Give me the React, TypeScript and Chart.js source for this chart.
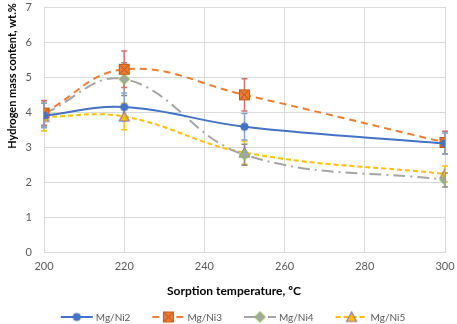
import React, { useEffect, useRef } from "react";
import { Chart, registerables } from "chart.js";

Chart.register(...registerables);

const temperatures = [200, 220, 250, 300];
const seriesNames = ["Mg/Ni2", "Mg/Ni3", "Mg/Ni4", "Mg/Ni5"];
const mgNi2 = [3.9, 4.14, 3.58, 3.1];
const mgNi2Err = [0.35, 0.4, 0.38, 0.3];
const mgNi3 = [3.97, 5.22, 4.49, 3.13];
const mgNi3Err = [0.35, 0.52, 0.46, 0.32];
const mgNi4 = [3.95, 4.94, 2.78, 2.06];
const mgNi4Err = [0.38, 0.47, 0.3, 0.2];
const mgNi5 = [3.86, 3.87, 2.84, 2.23];
const mgNi5Err = [0.4, 0.38, 0.33, 0.23];
const xTickValues = [200, 220, 240, 260, 280, 300];
const yTickValues = [0, 1, 2, 3, 4, 5, 6, 7];
const xTitle = "Sorption temperature, ºC";
const yTitle = "Hydrogen mass content, wt.%";

const FONT = "Lato, 'Open Sans', sans-serif";

const lineColors = ["#4472C4", "#ED7D31", "#A5A5A5", "#FFC000"];
const errColors = ["#7FA4D8", "#D0706A", "#8C8C8C", "#FFC000"];
const dashes: number[][] = [[], [7, 5], [12, 5, 2, 5], [5, 3]];

function makeMarker(kind: number): HTMLCanvasElement {
  const c = document.createElement("canvas");
  c.width = 13;
  c.height = 13;
  const g = c.getContext("2d")!;
  const cx = 6.5, cy = 6.5;
  if (kind === 0) {
    g.fillStyle = "#4472C4";
    g.beginPath();
    g.arc(cx, cy, 4, 0, Math.PI * 2);
    g.fill();
  } else if (kind === 1) {
    g.fillStyle = "#ED7D31";
    g.fillRect(1.5, 1.5, 10, 10);
    g.strokeStyle = "#C55A11";
    g.lineWidth = 1;
    g.strokeRect(1.5, 1.5, 10, 10);
    g.strokeStyle = "#B04A2A";
    g.beginPath();
    g.moveTo(2.5, 2.5); g.lineTo(10.5, 10.5);
    g.moveTo(10.5, 2.5); g.lineTo(2.5, 10.5);
    g.stroke();
  } else if (kind === 2) {
    g.fillStyle = "#A5A5A5";
    g.strokeStyle = "#8DBB5E";
    g.lineWidth = 1.2;
    g.beginPath();
    g.moveTo(cx, cy - 5); g.lineTo(cx + 5, cy); g.lineTo(cx, cy + 5); g.lineTo(cx - 5, cy);
    g.closePath();
    g.fill();
    g.stroke();
  } else {
    g.fillStyle = "#FFC000";
    g.strokeStyle = "#8B74B0";
    g.lineWidth = 1.2;
    g.beginPath();
    g.moveTo(cx, 1.5); g.lineTo(11.5, 11); g.lineTo(1.5, 11);
    g.closePath();
    g.fill();
    g.stroke();
  }
  return c;
}

export default function App() {
  const ref = useRef<HTMLCanvasElement>(null);

  useEffect(() => {
    const markers = [0, 1, 2, 3].map(makeMarker);
    const values = [mgNi2, mgNi3, mgNi4, mgNi5];
    const errors = [mgNi2Err, mgNi3Err, mgNi4Err, mgNi5Err];

    const extras = {
      id: "extras",
      beforeDatasetsDraw(chart: any) {
        const ctx = chart.ctx;
        const xs = chart.scales.x;
        const ys = chart.scales.y;
        ctx.save();
        for (let d = values.length - 1; d >= 0; d--) {
          ctx.strokeStyle = errColors[d];
          ctx.lineWidth = 1.5;
          values[d].forEach((v, i) => {
            const x = xs.getPixelForValue(temperatures[i]);
            const yTop = ys.getPixelForValue(v + errors[d][i]);
            const yBot = ys.getPixelForValue(v - errors[d][i]);
            ctx.beginPath();
            ctx.moveTo(x, yTop); ctx.lineTo(x, yBot);
            ctx.moveTo(x - 3, yTop); ctx.lineTo(x + 3, yTop);
            ctx.moveTo(x - 3, yBot); ctx.lineTo(x + 3, yBot);
            ctx.stroke();
          });
        }
        ctx.restore();
      },
      afterDraw(chart: any) {
        const ctx = chart.ctx;
        ctx.save();
        ctx.fillStyle = "#000";
        ctx.font = `bold 11px ${FONT}`;
        ctx.textAlign = "center";
        ctx.textBaseline = "middle";
        ctx.save();
        ctx.translate(12, 76);
        ctx.rotate(-Math.PI / 2);
        ctx.fillText(yTitle, 0, 0);
        ctx.restore();
        ctx.font = `bold 12px ${FONT}`;
        ctx.fillText(xTitle, 234, 291);
        ctx.font = `10px ${FONT}`;
        const lineW = 32, gapText = 3, gapItem = 22;
        const widths = seriesNames.map((n) => lineW + gapText + ctx.measureText(n).width);
        const total = widths.reduce((a, b) => a + b, 0) + gapItem * (widths.length - 1);
        let x = 233 - total / 2;
        const y = 317;
        seriesNames.forEach((n, i) => {
          ctx.save();
          ctx.strokeStyle = lineColors[i];
          ctx.lineWidth = 2;
          ctx.setLineDash(dashes[i]);
          ctx.beginPath();
          ctx.moveTo(x, y); ctx.lineTo(x + lineW, y);
          ctx.stroke();
          ctx.restore();
          const m = markers[i];
          ctx.drawImage(m, x + lineW / 2 - m.width / 2, y - m.height / 2);
          ctx.fillStyle = "#595959";
          ctx.textAlign = "left";
          ctx.fillText(n, x + lineW + gapText, y + 0.5);
          x += widths[i] + gapItem;
        });
        ctx.restore();
      },
    };

    const chart = new Chart(ref.current!, {
      type: "line",
      data: {
        datasets: values.map((vals, d) => ({
          label: seriesNames[d],
          data: vals.map((v, i) => ({ x: temperatures[i], y: v })),
          borderColor: lineColors[d],
          backgroundColor: lineColors[d],
          borderWidth: 2,
          borderDash: dashes[d],
          tension: 0.4,
          pointStyle: markers[d] as any,
          pointRadius: 5,
          fill: false,
        })),
      },
      options: {
        responsive: false,
        animation: false,
        layout: { padding: 0 },
        plugins: { legend: { display: false }, tooltip: { enabled: false } },
        scales: {
          x: {
            type: "linear",
            min: 200,
            max: 300,
            afterBuildTicks: (s: any) => {
              s.ticks = xTickValues.map((v) => ({ value: v }));
            },
            afterFit: (s: any) => {
              s.height = 72;
              s.paddingLeft = 0;
              s.paddingRight = 12;
              s.paddingTop = 0;
              s.paddingBottom = 0;
            },
            grid: { color: "#D9D9D9", drawTicks: false },
            border: { color: "#D9D9D9" },
            ticks: { padding: 8, color: "#595959", font: { family: FONT, size: 11 } },
          },
          y: {
            min: 0,
            max: 7,
            afterBuildTicks: (s: any) => {
              s.ticks = yTickValues.map((v) => ({ value: v }));
            },
            afterFit: (s: any) => {
              s.width = 44;
              s.paddingTop = 5;
              s.paddingBottom = 0;
              s.paddingLeft = 0;
              s.paddingRight = 0;
            },
            grid: { color: "#D9D9D9", drawTicks: false },
            border: { color: "#D9D9D9" },
            ticks: { padding: 12, color: "#595959", font: { family: FONT, size: 11 } },
          },
        },
      },
      plugins: [extras],
    });
    return () => chart.destroy();
  }, []);

  return (
    <div style={{ position: "absolute", left: 0, top: 0, width: 457, height: 324, background: "#fff" }}>
      <canvas ref={ref} width={457} height={324} style={{ width: 457, height: 324 }} />
    </div>
  );
}
